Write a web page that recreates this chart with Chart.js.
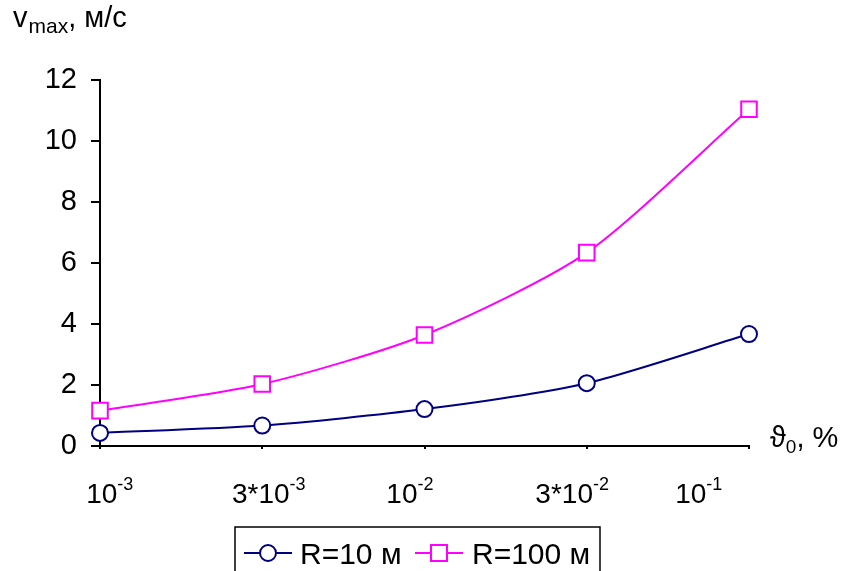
<!DOCTYPE html>
<html lang="ru">
<head>
<meta charset="UTF-8">
<title>v max</title>
<style>
  html, body { margin: 0; padding: 0; background: #fff; }
  #wrap { width: 843px; height: 571px; }
</style>
</head>
<body>
<div id="wrap"><canvas id="chart"></canvas></div>
<script src="https://cdn.jsdelivr.net/npm/chart.js"></script>
<script>
// theta0 values, %
var categories = ['1e-3', '3e-3', '1e-2', '3e-2', '1e-1'];
var tickBase = ['10', '3*10', '10', '3*10', '10'];
var tickExp = ['-3', '-3', '-2', '-2', '-1'];
// where each x label is centred, in category units
var tickAt = [0.06, 1.04, 1.91, 2.91, 3.69];

// v max, m/s
var r10 = [0.43, 0.67, 1.21, 2.06, 3.67];
var r100 = [1.16, 2.03, 3.64, 6.34, 11.04];
var seriesNames = ['R=10 м', 'R=100 м'];

var FONT = '"Liberation Sans", Arial, sans-serif';
var NAVY = '#000080';
var PINK = '#ff00ff';

function text(ctx, str, x, y, size) {
  ctx.font = size + 'px ' + FONT;
  ctx.fillText(str, x, y);
  return x + ctx.measureText(str).width;
}

// titles, x labels with exponents and the boxed legend
var extras = {
  id: 'extras',
  afterDraw: function(chart) {
    var ctx = chart.ctx;
    var xs = chart.scales.x;
    ctx.save();
    ctx.fillStyle = '#000';
    ctx.textAlign = 'left';
    ctx.textBaseline = 'alphabetic';

    // y title
    var x = text(ctx, 'v', 13, 27, 29);
    x = text(ctx, 'max', x + 1, 33, 21);
    text(ctx, ', м/с', x, 27, 29);

    // x title
    x = text(ctx, 'ϑ', 770, 447, 29);
    x = text(ctx, '0', x, 453, 19);
    text(ctx, ', %', x, 447, 29);

    // x tick labels
    for (var i = 0; i < tickBase.length; i++) {
      ctx.font = '28px ' + FONT;
      var wb = ctx.measureText(tickBase[i]).width;
      ctx.font = '18px ' + FONT;
      var we = ctx.measureText(tickExp[i]).width;
      var cx = xs.getPixelForValue(tickAt[i]);
      var lx = cx - (wb + we) / 2;
      lx = text(ctx, tickBase[i], lx, 503, 28);
      text(ctx, tickExp[i], lx, 490, 18);
    }

    // legend
    ctx.strokeStyle = '#000';
    ctx.lineWidth = 1.5;
    ctx.strokeRect(235, 527, 365, 60);
    var items = [
      { lx: 244, tx: 300, ds: chart.data.datasets[0] },
      { lx: 415, tx: 472, ds: chart.data.datasets[1] }
    ];
    var ly = 553;
    items.forEach(function(it) {
      ctx.strokeStyle = it.ds.borderColor;
      ctx.lineWidth = 2;
      ctx.beginPath();
      ctx.moveTo(it.lx, ly);
      ctx.lineTo(it.lx + 48, ly);
      ctx.stroke();
      ctx.fillStyle = '#fff';
      ctx.beginPath();
      if (it.ds.pointStyle === 'circle') {
        ctx.arc(it.lx + 24, ly, 8, 0, Math.PI * 2);
      } else {
        ctx.rect(it.lx + 24 - 8, ly - 8, 16, 16);
      }
      ctx.fill();
      ctx.stroke();
      ctx.fillStyle = '#000';
      text(ctx, it.ds.label, it.tx, 564, 30);
    });
    ctx.restore();
  }
};

var chart = new Chart(document.getElementById('chart'), {
  type: 'line',
  data: {
    labels: categories,
    datasets: [
      {
        label: seriesNames[0],
        data: r10,
        borderColor: NAVY,
        borderWidth: 2,
        pointStyle: 'circle',
        pointRadius: 8,
        pointBorderWidth: 2,
        pointBackgroundColor: '#fff',
        pointBorderColor: NAVY,
        tension: 0.25,
        clip: false
      },
      {
        label: seriesNames[1],
        data: r100,
        borderColor: PINK,
        borderWidth: 2,
        pointStyle: 'rect',
        pointRadius: 11,
        pointBorderWidth: 2,
        pointBackgroundColor: '#fff',
        pointBorderColor: PINK,
        tension: 0.25,
        clip: false
      }
    ]
  },
  options: {
    responsive: true,
    maintainAspectRatio: false,
    animation: false,
    layout: { padding: { top: 80, right: 94, left: 0, bottom: 0 } },
    plugins: {
      legend: { display: false },
      tooltip: { enabled: false }
    },
    scales: {
      x: {
        offset: false,
        afterFit: function(s) { s.height = 125; },
        border: { color: '#000', width: 2 },
        grid: { drawOnChartArea: false, color: '#000', tickLength: 3, lineWidth: 2 },
        ticks: { display: false }
      },
      y: {
        min: 0,
        max: 12,
        afterFit: function(s) { s.width = 100; },
        border: { color: '#000', width: 2 },
        grid: { drawOnChartArea: false, color: '#000', tickLength: 9, lineWidth: 2 },
        ticks: {
          stepSize: 2,
          padding: 14,
          color: '#000',
          font: { family: FONT, size: 29 }
        }
      }
    }
  },
  plugins: [extras]
});
</script>
</body>
</html>
